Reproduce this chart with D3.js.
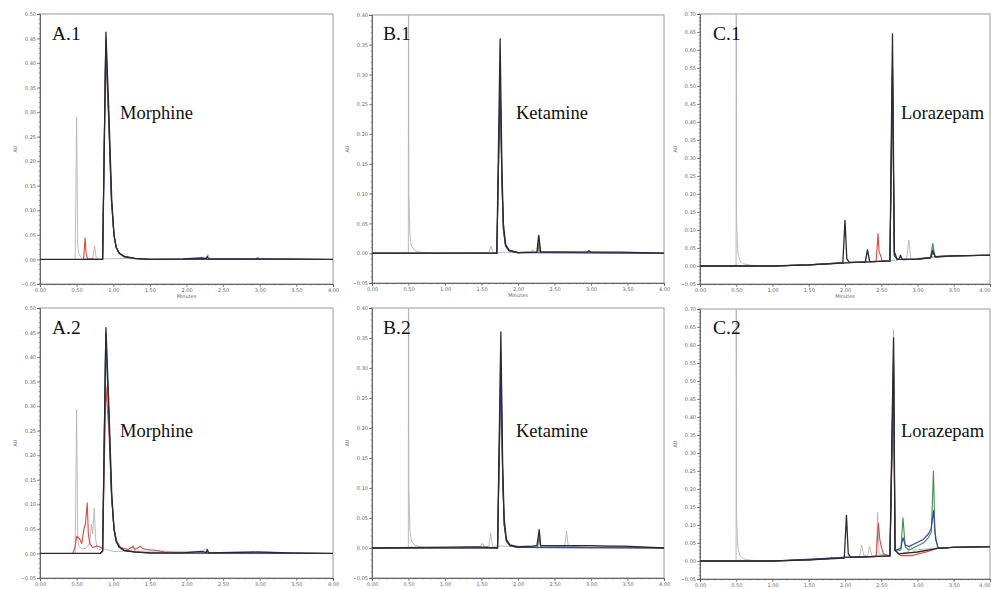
<!DOCTYPE html>
<html><head><meta charset="utf-8">
<script src="https://cdn.jsdelivr.net/npm/d3@7"></script>
<style>
html,body{margin:0;padding:0;background:#fff;overflow:hidden;}
svg{display:block;}
.tick text{font-family:"DejaVu Sans",sans-serif;}
</style></head>
<body>
<svg id="chart" width="991" height="589"></svg>
<script>
// ---------- tick labels ----------
const xTickValues = [0, 0.5, 1, 1.5, 2, 2.5, 3, 3.5, 4];
const xTickLabels = ["0.00","0.50","1.00","1.50","2.00","2.50","3.00","3.50","4.00"];
const yTicksA = [-0.05,0,0.05,0.10,0.15,0.20,0.25,0.30,0.35,0.40,0.45,0.50];
const yTicksB = [-0.05,0,0.05,0.10,0.15,0.20,0.25,0.30,0.35,0.40];
const yTicksC = [-0.05,0,0.05,0.10,0.15,0.20,0.25,0.30,0.35,0.40,0.45,0.50,0.55,0.60,0.65,0.70];
const panelIds = ["A.1","B.1","C.1","A.2","B.2","C.2"];
const compounds = ["Morphine","Ketamine","Lorazepam","Morphine","Ketamine","Lorazepam"];
const xTitle = "Minutes";
const yTitle = "AU";

// ---------- traces: [minutes, AU] ----------
// A.1 Morphine
const A1_gray  = [[0,0],[0.48,0],[0.50,0.29],[0.515,0.03],[0.53,0.012],[0.56,0.004],[0.60,0.001],[0.72,0.002],[0.745,0.028],[0.765,0.005],[0.80,0.001],[1.2,0.002],[2.18,0.001],[2.21,0.006],[2.24,0.001],[2.27,0.003],[2.29,0.011],[2.32,0.002],[4,0]];
const A1_red   = [[0,0],[0.595,0],[0.615,0.044],[0.63,0.01],[0.65,0.002],[0.855,0],[0.897,0.43],[0.935,0.29],[0.975,0.12],[1.01,0.05],[1.04,0.024],[1.08,0.012],[1.15,0.005],[1.3,0.001],[4,0]];
const A1_green = [[0,0],[0.855,0],[0.897,0.44],[0.935,0.30],[0.975,0.12],[1.01,0.05],[1.04,0.025],[1.08,0.013],[1.15,0.006],[1.3,0.002],[1.5,0],[4,0]];
const A1_blue  = [[0,0],[0.855,0],[0.898,0.448],[0.936,0.30],[0.976,0.12],[1.01,0.05],[1.04,0.025],[1.08,0.013],[1.15,0.006],[1.3,0.002],[1.5,0],[4,0]];
const A1_black = [[0,0],[0.855,0],[0.90,0.463],[0.94,0.30],[0.98,0.12],[1.01,0.05],[1.04,0.025],[1.08,0.013],[1.15,0.006],[1.3,0.002],[1.5,0],[1.95,0.001],[2.2,0.003],[2.27,0.002],[2.285,0.006],[2.30,0.001],[2.95,0.001],[2.97,0.003],[2.99,0.001],[3.4,0.001],[4,0]];

// B.1 Ketamine
const B1_gray  = [[0,0],[0.498,0],[0.50,0.6],[0.505,0.1],[0.52,0.03],[0.54,0.012],[0.58,0.005],[0.65,0.002],[0.8,0],[1.60,0.001],[1.63,0.012],[1.66,0.001],[2.18,0.001],[2.2,0.006],[2.23,0.001],[2.26,0.003],[2.28,0.03],[2.31,0.003],[4,0]];
const B1_red   = [[0,0],[1.71,0],[1.755,0.295],[1.78,0.12],[1.80,0.04],[1.83,0.012],[1.88,0.004],[2.0,0.001],[2.27,0.002],[2.285,0.02],[2.30,0.002],[4,0]];
const B1_green = [[0,0],[1.71,0],[1.755,0.28],[1.78,0.12],[1.80,0.04],[1.83,0.012],[1.88,0.004],[2.0,0.001],[2.27,0.002],[2.285,0.015],[2.30,0.002],[2.95,0.001],[2.97,0.003],[2.99,0.001],[4,0]];
const B1_blue  = [[0,0],[1.71,0],[1.755,0.285],[1.78,0.12],[1.80,0.04],[1.83,0.012],[1.88,0.004],[2.0,0.001],[4,0]];
const B1_black = [[0,0],[1.71,0],[1.755,0.36],[1.78,0.14],[1.80,0.05],[1.83,0.015],[1.88,0.005],[2.0,0.001],[2.26,0.002],[2.285,0.03],[2.31,0.002],[2.95,0.002],[2.97,0.004],[3.0,0.002],[3.25,0.002],[3.4,0.002],[4,0]];

// C.1 Lorazepam
const C1_gray  = [[0,0],[0.498,0],[0.50,0.9],[0.505,0.12],[0.52,0.04],[0.55,0.015],[0.6,0.006],[0.7,0.002],[0.9,0],[1.5,0.003],[1.9,0.008],[2.28,0.012],[2.31,0.045],[2.34,0.012],[2.6,0.014],[2.85,0.02],[2.88,0.072],[2.91,0.02],[3.18,0.024],[3.21,0.05],[3.24,0.026],[3.5,0.028],[4,0.03]];
const C1_red   = [[0,0],[1.0,0],[1.5,0.003],[1.9,0.008],[2.2,0.011],[2.43,0.012],[2.455,0.09],[2.47,0.04],[2.49,0.03],[2.51,0.015],[2.62,0.014],[2.655,0.55],[2.68,0.03],[2.72,0.018],[3.0,0.018],[3.2,0.025],[3.5,0.028],[4,0.03]];
const C1_green = [[0,0],[1.0,0],[1.5,0.003],[1.9,0.008],[2.62,0.014],[2.655,0.53],[2.68,0.03],[2.72,0.018],[3.0,0.019],[3.18,0.024],[3.21,0.063],[3.24,0.026],[3.5,0.028],[4,0.03]];
const C1_blue  = [[0,0],[1.0,0],[1.5,0.003],[1.9,0.008],[2.62,0.014],[2.655,0.56],[2.68,0.03],[2.72,0.018],[3.0,0.019],[3.18,0.024],[3.21,0.045],[3.24,0.026],[3.5,0.028],[4,0.03]];
const C1_black = [[0,0],[1.0,0],[1.5,0.003],[1.97,0.008],[2.0,0.127],[2.025,0.02],[2.06,0.01],[2.28,0.011],[2.31,0.045],[2.34,0.012],[2.62,0.014],[2.655,0.645],[2.68,0.04],[2.72,0.018],[2.75,0.02],[2.765,0.03],[2.79,0.018],[3.0,0.019],[3.18,0.022],[3.21,0.04],[3.25,0.025],[3.5,0.028],[4,0.03]];

// A.2 Morphine
const A2_gray  = [[0,0],[0.48,0],[0.50,0.293],[0.515,0.03],[0.53,0.015],[0.56,0.01],[0.62,0.01],[0.68,0.02],[0.70,0.06],[0.72,0.04],[0.74,0.092],[0.76,0.03],[0.78,0.01],[0.82,0.008],[0.86,0.01],[1.0,0.004],[1.25,0.005],[1.27,0.016],[1.29,0.005],[2.2,0.004],[2.28,0.01],[2.3,0.002],[4,0]];
const A2_red   = [[0,0],[0.45,0],[0.48,0.015],[0.50,0.035],[0.54,0.03],[0.57,0.02],[0.60,0.05],[0.62,0.06],[0.645,0.103],[0.66,0.04],[0.68,0.02],[0.72,0.012],[0.78,0.015],[0.83,0.012],[0.855,0.01],[0.90,0.34],[0.94,0.25],[0.98,0.11],[1.01,0.05],[1.05,0.025],[1.1,0.012],[1.2,0.008],[1.27,0.014],[1.30,0.008],[1.37,0.015],[1.40,0.01],[1.45,0.008],[1.6,0.006],[1.7,0.003],[2.0,0.001],[4,0]];
const A2_green = [[0,0],[0.82,0],[0.855,0.005],[0.897,0.44],[0.935,0.30],[0.975,0.12],[1.01,0.05],[1.04,0.025],[1.08,0.013],[1.15,0.006],[1.3,0.003],[1.5,0.001],[4,0]];
const A2_blue  = [[0,0],[0.82,0],[0.855,0.005],[0.898,0.45],[0.936,0.30],[0.976,0.12],[1.01,0.05],[1.04,0.025],[1.08,0.013],[1.15,0.006],[1.3,0.003],[1.5,0.001],[4,0]];
const A2_black = [[0,0],[0.82,0],[0.855,0.005],[0.90,0.46],[0.94,0.30],[0.98,0.12],[1.01,0.05],[1.04,0.025],[1.08,0.013],[1.15,0.006],[1.3,0.003],[1.5,0.001],[1.95,0.001],[2.2,0.004],[2.27,0.002],[2.285,0.008],[2.30,0.001],[2.97,0.003],[3.4,0.001],[4,0]];

// B.2 Ketamine
const B2_gray  = [[0,0],[0.498,0],[0.50,0.6],[0.505,0.1],[0.52,0.03],[0.54,0.012],[0.58,0.005],[0.65,0.002],[0.8,0],[1.48,0.002],[1.51,0.008],[1.54,0.002],[1.60,0.003],[1.625,0.025],[1.65,0.003],[2.2,0.003],[2.27,0.003],[2.29,0.032],[2.31,0.004],[2.64,0.002],[2.665,0.028],[2.69,0.002],[2.97,0.004],[4,0]];
const B2_red   = [[0,0],[1.72,0],[1.765,0.30],[1.79,0.12],[1.81,0.04],[1.84,0.012],[1.89,0.004],[2.0,0.001],[4,0]];
const B2_green = [[0,0],[1.72,0],[1.765,0.327],[1.79,0.12],[1.81,0.04],[1.84,0.012],[1.89,0.004],[2.0,0.001],[2.27,0.002],[2.29,0.02],[2.31,0.002],[4,0]];
const B2_blue  = [[0,0],[1.72,0],[1.765,0.29],[1.79,0.12],[1.81,0.04],[1.84,0.012],[1.89,0.004],[2.0,0.001],[4,0]];
const B2_black = [[0,0],[1.45,0.002],[1.72,0],[1.765,0.36],[1.79,0.14],[1.81,0.05],[1.84,0.015],[1.89,0.005],[2.0,0.002],[2.2,0.003],[2.26,0.004],[2.29,0.03],[2.31,0.004],[2.97,0.004],[3.25,0.003],[3.45,0.003],[4,0]];

// C.2 Lorazepam
const C2_gray  = [[0,0],[0.498,0],[0.50,0.9],[0.505,0.12],[0.52,0.04],[0.55,0.015],[0.6,0.006],[0.7,0.002],[0.9,0],[1.5,0.003],[1.78,0.005],[1.81,0.012],[1.84,0.006],[2.0,0.01],[2.2,0.012],[2.23,0.044],[2.26,0.015],[2.31,0.014],[2.34,0.04],[2.37,0.015],[2.43,0.014],[2.45,0.135],[2.47,0.02],[2.62,0.015],[2.67,0.643],[2.69,0.03],[2.74,0.02],[2.87,0.025],[2.90,0.045],[2.94,0.03],[3.22,0.035],[3.5,0.038],[4,0.04]];
const C2_red   = [[0,0],[1.0,0],[1.5,0.003],[2.0,0.01],[2.43,0.012],[2.46,0.105],[2.48,0.06],[2.50,0.04],[2.53,0.02],[2.62,0.014],[2.67,0.5],[2.69,0.03],[2.77,0.015],[2.92,0.015],[3.12,0.025],[3.2,0.03],[3.25,0.035],[3.5,0.038],[4,0.04]];
const C2_green = [[0,0],[1.0,0],[1.5,0.003],[2.0,0.01],[2.62,0.014],[2.67,0.55],[2.69,0.03],[2.77,0.03],[2.80,0.12],[2.83,0.04],[2.88,0.03],[2.98,0.04],[3.08,0.05],[3.15,0.065],[3.19,0.08],[3.22,0.25],[3.24,0.08],[3.28,0.035],[3.5,0.038],[4,0.04]];
const C2_blue  = [[0,0],[1.0,0],[2.0,0.01],[2.62,0.014],[2.67,0.56],[2.69,0.03],[2.77,0.035],[2.80,0.065],[2.83,0.045],[2.88,0.04],[2.98,0.05],[3.08,0.06],[3.15,0.075],[3.19,0.09],[3.22,0.14],[3.25,0.06],[3.29,0.035],[3.5,0.038],[4,0.04]];
const C2_black = [[0,0],[1.0,0],[1.5,0.003],[1.99,0.008],[2.02,0.127],[2.045,0.02],[2.08,0.01],[2.62,0.014],[2.67,0.62],[2.69,0.03],[2.74,0.02],[3.0,0.025],[3.28,0.035],[3.5,0.038],[4,0.04]];

// ---------- drawing ----------
const colors = {gray:"#b4b4b4", red:"#e0473f", green:"#3f9150", blue:"#3c3ea0", black:"#2b2b2b"};
const traceOrder = ["gray","red","green","blue","black"];

const panels = [
  {traces:{gray:A1_gray,red:A1_red,green:A1_green,blue:A1_blue,black:A1_black}, yDomain:[-0.05,0.50], yTicks:yTicksA, x0:40,  x1:333, y0:14,  y1:284, idX:52,  nameX:120, idY:40,  nameY:119, showX:true},
  {traces:{gray:B1_gray,red:B1_red,green:B1_green,blue:B1_blue,black:B1_black}, yDomain:[-0.05,0.40], yTicks:yTicksB, x0:372, x1:664, y0:15,  y1:283, idX:383, nameX:516, idY:40,  nameY:119, showX:true},
  {traces:{gray:C1_gray,red:C1_red,green:C1_green,blue:C1_blue,black:C1_black}, yDomain:[-0.05,0.70], yTicks:yTicksC, x0:700, x1:990, y0:14,  y1:284, idX:713, nameX:901, idY:40,  nameY:119, showX:true},
  {traces:{gray:A2_gray,red:A2_red,green:A2_green,blue:A2_blue,black:A2_black}, yDomain:[-0.05,0.50], yTicks:yTicksA, x0:40,  x1:333, y0:308, y1:578, idX:52,  nameX:120, idY:334, nameY:437, showX:false},
  {traces:{gray:B2_gray,red:B2_red,green:B2_green,blue:B2_blue,black:B2_black}, yDomain:[-0.05,0.40], yTicks:yTicksB, x0:372, x1:664, y0:308, y1:578, idX:383, nameX:516, idY:334, nameY:437, showX:false},
  {traces:{gray:C2_gray,red:C2_red,green:C2_green,blue:C2_blue,black:C2_black}, yDomain:[-0.05,0.70], yTicks:yTicksC, x0:700, x1:990, y0:309, y1:579, idX:713, nameX:901, idY:334, nameY:437, showX:false}
];

const svg = d3.select("#chart");
const defs = svg.append("defs");
const minorX = d3.range(0, 4.0001, 0.1);

panels.forEach((p, i) => {
  const x = d3.scaleLinear().domain([0, 4]).range([p.x0, p.x1]);
  const y = d3.scaleLinear().domain(p.yDomain).range([p.y1, p.y0]);
  const g = svg.append("g");

  defs.append("clipPath").attr("id", "clip" + i)
    .append("rect").attr("x", p.x0).attr("y", p.y0).attr("width", p.x1 - p.x0).attr("height", p.y1 - p.y0);

  // frame
  g.append("rect").attr("x", p.x0).attr("y", p.y0).attr("width", p.x1 - p.x0).attr("height", p.y1 - p.y0)
    .attr("fill", "#fff").attr("stroke", "#9a9a9a").attr("stroke-width", 1);

  // minor ticks
  const yMinor = d3.range(Math.round(p.yDomain[0]*100), Math.round(p.yDomain[1]*100)+1).map(v => v/100);
  g.append("g").selectAll("line").data(yMinor).join("line")
    .attr("x1", p.x0 - 1.5).attr("x2", p.x0).attr("y1", d => y(d)).attr("y2", d => y(d))
    .attr("stroke", "#777").attr("stroke-width", 0.6);
  g.append("g").selectAll("line").data(minorX).join("line")
    .attr("y1", p.y1).attr("y2", p.y1 + 1.5).attr("x1", d => x(d)).attr("x2", d => x(d))
    .attr("stroke", "#777").attr("stroke-width", 0.6);

  // axes
  const ax = g.append("g").attr("transform", `translate(0,${p.y1})`)
    .call(d3.axisBottom(x).tickValues(xTickValues).tickFormat((d, k) => xTickLabels[k]).tickSize(3).tickPadding(1));
  const ay = g.append("g").attr("transform", `translate(${p.x0},0)`)
    .call(d3.axisLeft(y).tickValues(p.yTicks).tickFormat(d3.format(".2f")).tickSize(3).tickPadding(1));
  [ax, ay].forEach(a => {
    a.select(".domain").attr("stroke", "#666").attr("stroke-width", 1);
    a.selectAll(".tick line").attr("stroke", "#666").attr("stroke-width", 0.7);
    a.selectAll(".tick text").attr("font-size", 5).attr("fill", "#666");
  });
  // last x label at the clipped right edge of the picture
  if (p.x1 > 985) ax.selectAll(".tick text").filter((d) => d === 4).attr("text-anchor", "end");

  // axis titles
  if (p.showX) {
    g.append("text").attr("x", (p.x0 + p.x1) / 2).attr("y", p.y1 + 14)
      .attr("text-anchor", "middle").attr("font-size", 5).attr("fill", "#666")
      .attr("font-family", "DejaVu Sans, sans-serif").text(xTitle);
  }
  g.append("text").attr("transform", `translate(${p.x0 - 23},${(p.y0 + p.y1) / 2}) rotate(-90)`)
    .attr("text-anchor", "middle").attr("font-size", 5).attr("fill", "#666")
    .attr("font-family", "DejaVu Sans, sans-serif").text(yTitle);

  // traces
  const line = d3.line().x(d => x(d[0])).y(d => y(d[1]));
  const tg = g.append("g").attr("clip-path", `url(#clip${i})`);
  traceOrder.forEach(k => {
    tg.append("path").datum(p.traces[k]).attr("d", line)
      .attr("fill", "none").attr("stroke", colors[k])
      .attr("stroke-width", k === "gray" ? 0.9 : (k === "black" ? 1.3 : 1.1)).attr("stroke-linejoin", "round");
  });

  // labels
  g.append("text").attr("x", p.idX).attr("y", p.idY)
    .attr("font-family", "Liberation Serif, Times New Roman, serif").attr("font-size", 19.5).attr("fill", "#111")
    .text(panelIds[i]);
  g.append("text").attr("x", p.nameX).attr("y", p.nameY)
    .attr("font-family", "Liberation Serif, Times New Roman, serif").attr("font-size", 18.5).attr("fill", "#111")
    .text(compounds[i]);
});
</script>
</body></html>
